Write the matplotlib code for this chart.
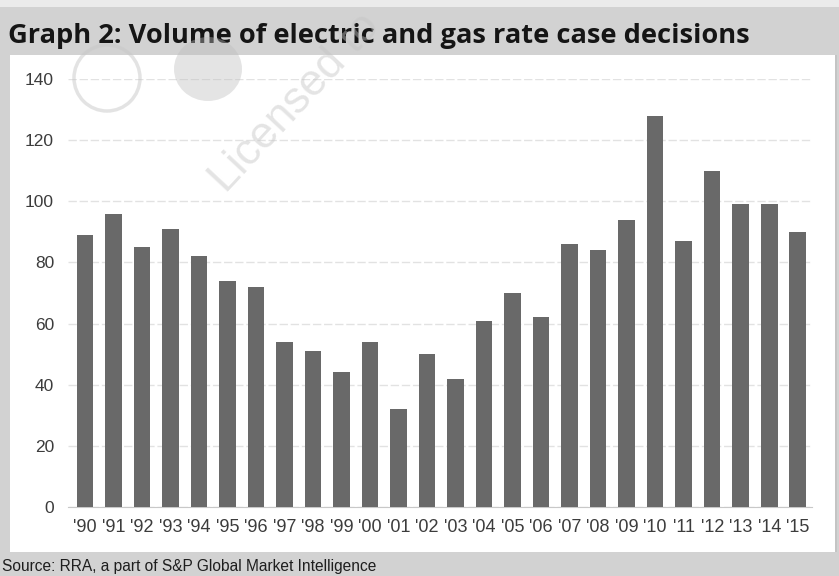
import matplotlib.pyplot as plt
from matplotlib.patches import Rectangle, Ellipse

years = ["'90", "'91", "'92", "'93", "'94", "'95", "'96", "'97", "'98", "'99",
         "'00", "'01", "'02", "'03", "'04", "'05", "'06", "'07", "'08", "'09",
         "'10", "'11", "'12", "'13", "'14", "'15"]
decisions = [89, 96, 85, 91, 82, 74, 72, 54, 51, 44,
             54, 32, 50, 42, 61, 70, 62, 86, 84, 94,
             128, 87, 110, 99, 99, 90]
y_ticks = [0, 20, 40, 60, 80, 100, 120, 140]

title = "Graph 2: Volume of electric and gas rate case decisions"
source = "Source: RRA, a part of S&P Global Market Intelligence"

W, H = 839, 576
fig = plt.figure(figsize=(W / 100, H / 100), dpi=100)
fig.patch.set_facecolor("#d2d2d2")

def px_rect(x0, y0, x1, y1, color, z=0):
    # rectangle in pixel coords measured from the top-left corner
    fig.patches.append(Rectangle((x0 / W, 1 - y1 / H), (x1 - x0) / W, (y1 - y0) / H,
                                 transform=fig.transFigure, facecolor=color,
                                 edgecolor="none", zorder=z))

px_rect(0, 0, W, 7, "#ebebeb")
px_rect(10, 55, 835, 552, "white")
px_rect(835, 55, 837, 552, "#c4c4c4")

fig.text(8 / W, 1 - 36 / H, title, fontsize=19.6, fontweight="bold",
         family="Open Sans", color="#151515", va="center", ha="left")
fig.text(2 / W, 1 - 566 / H, source, fontsize=11.2, family="Liberation Sans",
         color="#1e1e1e", va="center", ha="left")

ax = fig.add_axes([68 / W, 1 - 507 / H, (812 - 68) / W, (507 - 79) / H], zorder=2)
ax.set_facecolor("none")
x = range(len(years))
ax.bar(x, decisions, width=0.58, color="#696969", zorder=3)
ax.set_xlim(-0.6, 25.5)
ax.set_ylim(0, 140)
ax.set_yticks(y_ticks)
ax.set_xticks(list(x))
ax.set_xticklabels(years)
ax.tick_params(axis="both", length=0, labelcolor="#3c3c3c")
ax.tick_params(axis="y", pad=10, labelsize=12.5)
ax.tick_params(axis="x", pad=9, labelsize=13)
for lbl in ax.get_xticklabels() + ax.get_yticklabels():
    lbl.set_family("Liberation Sans")
ax.grid(axis="y", color="#e2e2e2", linewidth=1, linestyle=(0, (6, 2)), zorder=0)
for s in ["top", "right", "left"]:
    ax.spines[s].set_visible(False)
ax.spines["bottom"].set_color("#c8c8c8")

# faint watermark over the whole page
fig.patches.append(Ellipse((107 / W, 1 - 78 / H), 66 / W, 66 / H, transform=fig.transFigure,
                           fill=False, edgecolor="#c8c8c8", linewidth=2.5, alpha=0.5, zorder=5))
fig.patches.append(Ellipse((208 / W, 1 - 69 / H), 68 / W, 64 / H, transform=fig.transFigure,
                           facecolor="#bdbdbd", edgecolor="none", alpha=0.4, zorder=5))
fig.text(295 / W, 1 - 103 / H, "Licensed to", fontsize=32, family="Liberation Sans",
         color="#c4c4c4", alpha=0.45, rotation=47, ha="center", va="center", zorder=6)

fig.savefig("out.png", dpi=100, facecolor=fig.get_facecolor())
